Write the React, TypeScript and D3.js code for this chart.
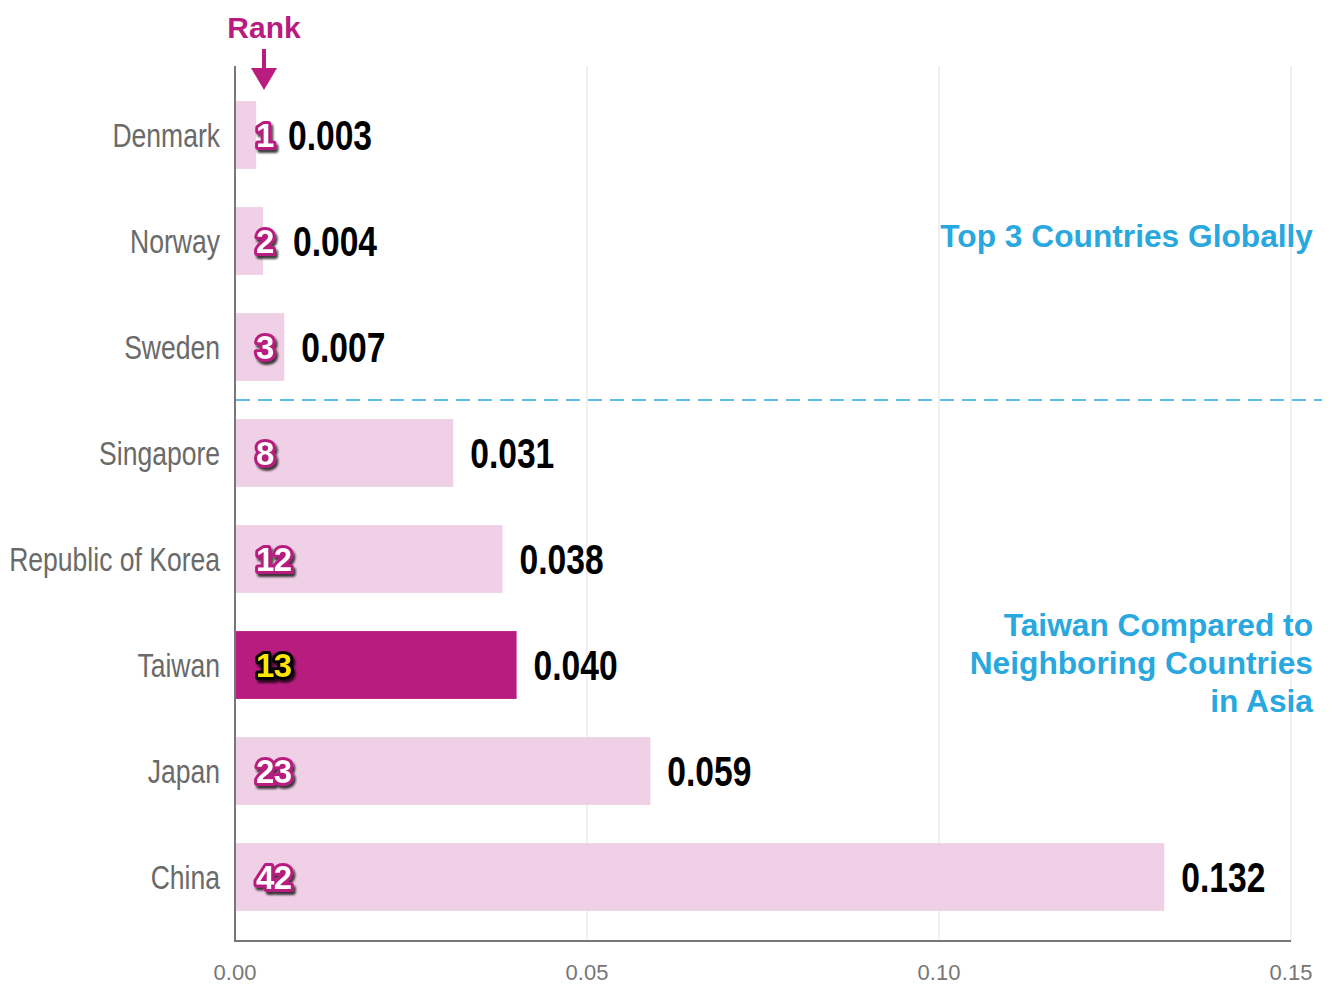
import React from "react";
import * as d3 from "d3";

const countries = ["Denmark", "Norway", "Sweden", "Singapore", "Republic of Korea", "Taiwan", "Japan", "China"];
const values = [0.003, 0.004, 0.007, 0.031, 0.038, 0.04, 0.059, 0.132];
const valueLabels = ["0.003", "0.004", "0.007", "0.031", "0.038", "0.040", "0.059", "0.132"];
const ranks = [1, 2, 3, 8, 12, 13, 23, 42];
const xTicks = [0, 0.05, 0.1, 0.15];

const pink = "#f0d0e6";
const magenta = "#b71c7e";
const blue = "#29a8e0";
const sans = "'Liberation Sans', Arial, sans-serif";

export default function App() {
  const x = d3.scaleLinear().domain([0, 0.15]).range([235, 1291]);
  const y = d3.scaleBand<string>().domain(countries).range([82, 930]).paddingInner(0.36).paddingOuter(0.18);
  const top = 66;
  const bottom = 941;
  const bw = y.bandwidth();
  const sepY = (y("Sweden")! + bw + y("Singapore")!) / 2;
  const rankX = 256;
  // rough width of a rank badge, so a value label never sits on top of it
  const rankEnd = (r: number) => rankX + String(r).length * 22 - (r === 1 ? 5 : 0);

  return (
    <svg width={1331} height={985} style={{ position: "absolute", left: 0, top: 0 }}>
      <defs>
        <filter id="shadow" x="-30%" y="-30%" width="160%" height="160%">
          <feDropShadow dx="2" dy="3" stdDeviation="1.2" floodColor="#000" floodOpacity="0.75" />
        </filter>
      </defs>
      {/* grid */}
      {xTicks.slice(1).map((t) => (
        <line key={t} x1={x(t)} x2={x(t)} y1={top} y2={bottom} stroke="#ebebeb" strokeWidth={1.5} />
      ))}
      {xTicks.map((t) => (
        <text key={t} x={x(t)} y={980} textAnchor="middle" fontFamily={sans} fontSize={22} fill="#777">
          {d3.format(".2f")(t)}
        </text>
      ))}
      {/* bars */}
      {countries.map((c, i) => (
        <rect key={c} x={x(0) + 1} y={y(c)} width={x(values[i]) - x(0) - 1} height={bw} fill={c === "Taiwan" ? magenta : pink} />
      ))}
      {/* axes */}
      <line x1={235} x2={235} y1={top} y2={bottom + 1} stroke="#777" strokeWidth={2} />
      <line x1={234} x2={1291} y1={bottom} y2={bottom} stroke="#777" strokeWidth={2} />
      {/* separator */}
      <line x1={236} x2={1322} y1={sepY} y2={sepY} stroke={blue} strokeWidth={1.5} strokeDasharray="14 8" />
      {/* category labels (condensed) */}
      {countries.map((c) => (
        <text
          key={c}
          transform={`translate(220,${y(c)! + bw / 2 + 12}) scale(0.78,1)`}
          textAnchor="end"
          fontFamily={sans}
          fontSize={34}
          fill="#6a6a6a"
        >
          {c}
        </text>
      ))}
      {/* rank labels */}
      {countries.map((c, i) => {
        const tw = c === "Taiwan";
        return (
          <text
            key={c}
            x={rankX}
            y={y(c)! + bw / 2 + 12}
            fontFamily={sans}
            fontWeight="bold"
            fontSize={33}
            fill={tw ? "#ffe600" : "#fff"}
            stroke={tw ? "#000" : magenta}
            strokeWidth={6}
            strokeLinejoin="round"
            paintOrder="stroke"
            filter="url(#shadow)"
            letterSpacing={-0.5}
          >
            {ranks[i]}
          </text>
        );
      })}
      {/* value labels (condensed bold) */}
      {countries.map((c, i) => (
        <text
          key={c}
          transform={`translate(${Math.max(x(values[i]) + 17, rankEnd(ranks[i]) + 15)},${y(c)! + bw / 2 + 15}) scale(0.8,1)`}
          fontFamily={sans}
          fontWeight="bold"
          fontSize={42}
          fill="#000"
        >
          {valueLabels[i]}
        </text>
      ))}
      {/* rank marker */}
      <text x={264} y={38} textAnchor="middle" fontFamily={sans} fontWeight="bold" fontSize={30} fill={magenta}>
        Rank
      </text>
      <line x1={264} x2={264} y1={49} y2={72} stroke={magenta} strokeWidth={4} />
      <path d="M251,68 L277,68 L264,90 Z" fill={magenta} />
      {/* annotations */}
      <g fontFamily={sans} fontWeight="bold" fontSize={31.7} fill={blue} textAnchor="end">
        <text x={1313} y={247}>Top 3 Countries Globally</text>
        <text x={1313} y={636}>Taiwan Compared to</text>
        <text x={1313} y={674}>Neighboring Countries</text>
        <text x={1313} y={712}>in Asia</text>
      </g>
    </svg>
  );
}
